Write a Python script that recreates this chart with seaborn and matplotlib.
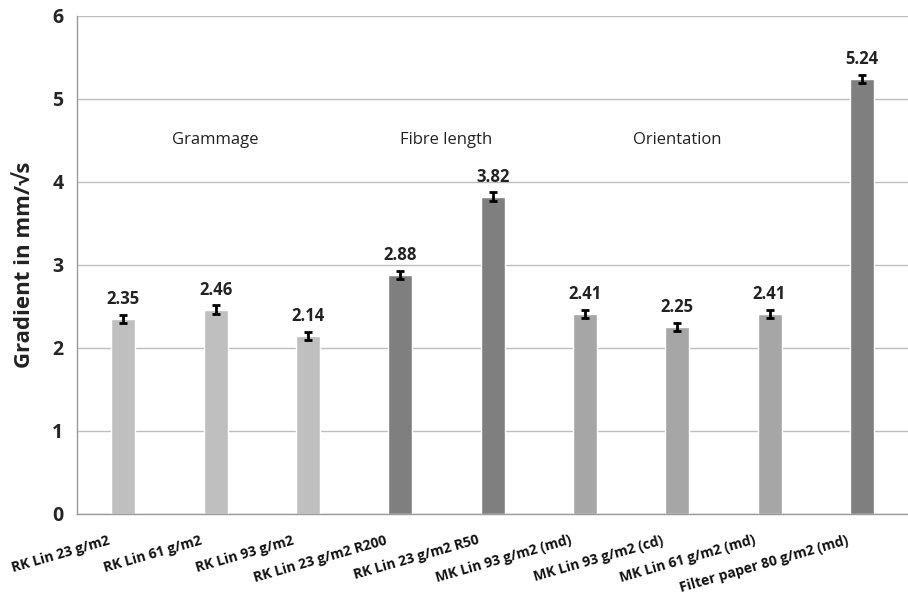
import numpy as np
import pandas as pd
import matplotlib
matplotlib.use('Agg')
import matplotlib.pyplot as plt
import matplotlib.transforms as mtransforms
import seaborn as sns

# Values
samples = ['RK Lin 23 g/m2', 'RK Lin 61 g/m2', 'RK Lin 93 g/m2', 'RK Lin 23 g/m2 R200',
           'RK Lin 23 g/m2 R50', 'MK Lin 93 g/m2 (md)', 'MK Lin 93 g/m2 (cd)',
           'MK Lin 61 g/m2 (md)', 'Filter paper 80 g/m2 (md)']
gradient = [2.35, 2.46, 2.14, 2.88, 3.82, 2.41, 2.25, 2.41, 5.24]
error = [0.05, 0.05, 0.05, 0.05, 0.05, 0.05, 0.05, 0.05, 0.05]
groups = ['grammage', 'grammage', 'grammage', 'dark', 'dark',
          'orientation', 'orientation', 'orientation', 'dark']
group_labels = ['Grammage', 'Fibre length', 'Orientation']
group_label_pos = [1.0, 3.5, 6.0]
group_label_y = 4.5

group_colors = {'grammage': '#BFBFBF', 'dark': '#7F7F7F', 'orientation': '#A6A6A6'}

df = pd.DataFrame({'sample': samples, 'gradient': gradient, 'group': groups})

sns.set_style('white')
plt.rcParams['font.family'] = ['Open Sans', 'DejaVu Sans']

fig = plt.figure(figsize=(9.08, 6.03), dpi=100)
ax = fig.add_axes([0.085, 0.148, 0.915, 0.826])

sns.barplot(data=df, x='sample', y='gradient', hue='group', palette=group_colors,
            dodge=False, width=0.26, legend=False, ax=ax, errorbar=None)

pos = np.arange(len(samples))
ax.errorbar(pos, gradient, yerr=error, fmt='none', ecolor='black', elinewidth=2,
            capsize=3, capthick=2, zorder=5)

for x, v, e in zip(pos, gradient, error):
    ax.text(x, v + e + 0.08, f'{v:.2f}', ha='center', va='bottom', fontsize=12,
            fontweight='bold', color='#222222')

for x, lab in zip(group_label_pos, group_labels):
    ax.text(x, group_label_y, lab, ha='center', va='center', fontsize=12,
            color='#222222')

ax.set_ylim(0, 6)
ax.set_xlim(-0.5, len(samples) - 0.5)
ax.set_yticks(range(0, 7))
ax.yaxis.grid(True, color='#BDBDBD', linewidth=1)
ax.set_axisbelow(True)
ax.set_xlabel('')
ax.set_ylabel('Gradient in mm/√s', fontsize=16, fontweight='bold', color='#222222', labelpad=12)

# category boundary ticks on the x axis
ax.set_xticks(np.arange(len(samples)) - 0.5, minor=True)
ax.set_xticks(pos)
ax.tick_params(axis='x', which='major', length=0, pad=14)
ax.tick_params(axis='x', which='minor', length=6, color='#999999', width=1)
ax.tick_params(axis='y', length=0, pad=10, labelsize=14)
ax.set_xticklabels(samples, rotation=16, ha='right', rotation_mode='anchor',
                   fontsize=10, fontweight='bold', color='#111111')
shift = mtransforms.ScaledTranslation(-16 / 100, 0, fig.dpi_scale_trans)
for t in ax.get_xticklabels():
    t.set_transform(t.get_transform() + shift)
for t in ax.get_yticklabels():
    t.set_fontweight('bold')

for s in ['top', 'right']:
    ax.spines[s].set_visible(False)
for s in ['left', 'bottom']:
    ax.spines[s].set_color('#999999')
    ax.spines[s].set_linewidth(1)

fig.savefig('out.png', dpi=100)
